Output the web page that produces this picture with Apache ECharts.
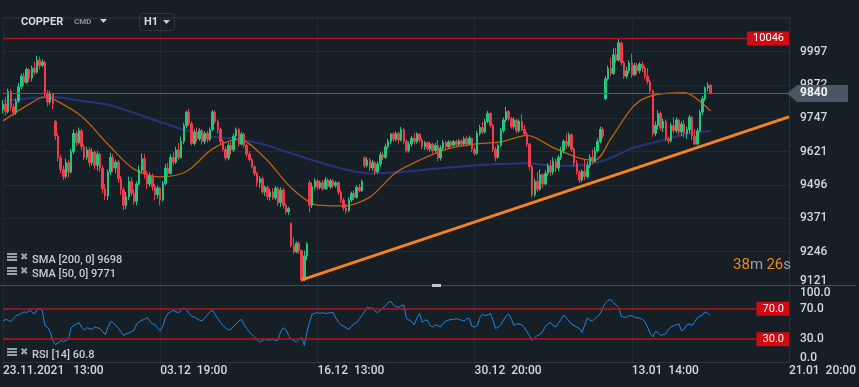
<!DOCTYPE html>
<html><head><meta charset="utf-8">
<script src="https://cdn.jsdelivr.net/npm/echarts@6/dist/echarts.min.js"></script>
<style>html,body{margin:0;padding:0;background:#171f26;}#c{width:859px;height:387px;}</style>
</head><body><div id="c"></div>
<script>
// ---- data ----
const symbolName = 'COPPER';
const symbolType = 'CMD';
const timeframe = 'H1';
const tickLabels = ['23.11.2021   13:00', '03.12  19:00', '16.12  13:00', '30.12  20:00', '13.01  14:00', '21.01  20:00'];
const tickEvery = 60;
const categoryCount = 301;
const priceMin = 9121, priceMax = 10127, priceStep = 125.1, priceLabelMax = 9997;
const highLevel = 10046;
const lastPrice = 9840;
const rsiLevels = [70, 30];
const smaLabels = ['SMA [200, 0] 9698', 'SMA [50, 0] 9771'];
const rsiLabel = 'RSI [14] 60.8';
const timerParts = ['38', 'm', '26', 's'];
// candles: [open, close, low, high]
const candles = [
[9780,9800,9765,9815],[9800,9772,9758,9826],[9772,9848,9765,9858],[9848,9790,9775,9855],[9790,9768,9755,9802],
[9768,9812,9760,9822],[9812,9865,9805,9880],[9865,9905,9855,9915],[9905,9882,9868,9918],[9882,9930,9875,9938],
[9930,9898,9882,9935],[9898,9935,9885,9945],[9935,9920,9908,9958],[9920,9965,9915,9982],[9965,9945,9930,9978],
[9945,9958,9938,9968],[9958,9842,9830,9962],[9842,9808,9792,9852],[9808,9838,9798,9850],[9838,9800,9782,9842],
[9735,9680,9665,9740],[9680,9598,9585,9690],[9598,9555,9540,9610],[9555,9528,9515,9570],[9528,9580,9520,9595],
[9580,9545,9525,9590],[9545,9622,9540,9632],[9622,9690,9612,9705],[9690,9655,9640,9700],[9655,9700,9648,9712],
[9700,9640,9625,9706],[9640,9600,9590,9650],[9600,9628,9590,9640],[9628,9580,9565,9640],[9580,9620,9570,9635],
[9620,9570,9555,9626],[9570,9612,9550,9625],[9612,9560,9545,9616],[9560,9482,9465,9570],[9482,9455,9440,9500],
[9455,9545,9440,9555],[9545,9600,9535,9618],[9600,9560,9545,9612],[9560,9582,9540,9592],[9582,9520,9505,9590],
[9520,9478,9460,9530],[9478,9420,9402,9488],[9420,9452,9406,9470],[9452,9510,9440,9528],[9510,9465,9455,9525],
[9465,9435,9422,9480],[9435,9500,9420,9510],[9500,9552,9495,9570],[9552,9595,9540,9615],[9595,9538,9520,9612],
[9538,9500,9482,9550],[9500,9530,9490,9545],[9530,9490,9475,9540],[9490,9460,9440,9500],[9460,9485,9445,9495],
[9485,9440,9420,9490],[9440,9502,9435,9512],[9502,9560,9495,9575],[9560,9540,9525,9580],[9540,9600,9535,9612],
[9600,9582,9570,9620],[9582,9628,9575,9640],[9628,9600,9590,9655],[9600,9660,9595,9678],[9660,9720,9650,9730],
[9720,9770,9710,9775],[9770,9728,9718,9783],[9728,9652,9645,9735],[9652,9695,9645,9705],[9695,9670,9660,9712],
[9670,9700,9662,9710],[9700,9660,9648,9706],[9660,9690,9650,9698],[9690,9668,9655,9700],[9668,9705,9660,9712],
[9705,9770,9698,9778],[9770,9735,9725,9776],[9735,9705,9690,9742],[9705,9660,9650,9712],[9660,9630,9622,9668],
[9630,9598,9588,9640],[9598,9645,9590,9655],[9645,9628,9610,9660],[9628,9680,9620,9690],[9680,9705,9665,9712],
[9705,9650,9640,9710],[9650,9688,9645,9695],[9688,9645,9636,9692],[9645,9612,9602,9650],[9612,9592,9585,9625],
[9592,9565,9558,9598],[9565,9540,9530,9570],[9540,9505,9490,9545],[9505,9520,9485,9530],[9520,9470,9462,9528],
[9470,9488,9455,9495],[9488,9452,9440,9494],[9452,9470,9438,9482],[9470,9448,9440,9485],[9448,9485,9440,9492],
[9485,9430,9418,9490],[9430,9478,9414,9488],[9478,9420,9408,9486],[9420,9395,9386,9428],[9395,9408,9384,9415],
[9352,9268,9262,9356],[9268,9245,9238,9298],[9245,9278,9240,9285],[9278,9250,9238,9285],[9250,9140,9132,9255],
[9140,9230,9135,9250],[9230,9275,9215,9282],[9505,9420,9395,9515],[9420,9490,9410,9505],[9490,9512,9480,9522],
[9512,9488,9478,9518],[9488,9505,9480,9512],[9505,9482,9475,9515],[9482,9515,9478,9527],[9515,9490,9480,9522],
[9490,9512,9482,9520],[9512,9495,9484,9518],[9495,9505,9486,9512],[9505,9470,9460,9510],[9470,9440,9429,9478],
[9440,9410,9400,9448],[9410,9400,9388,9425],[9400,9440,9395,9450],[9440,9465,9432,9472],[9465,9450,9440,9476],
[9450,9488,9445,9495],[9488,9475,9468,9500],[9475,9510,9470,9516],[9598,9570,9560,9604],[9570,9590,9562,9600],
[9590,9560,9548,9598],[9560,9580,9550,9590],[9580,9545,9534,9586],[9545,9575,9538,9585],[9575,9610,9565,9620],
[9610,9600,9590,9622],[9600,9640,9595,9652],[9640,9660,9632,9670],[9660,9688,9650,9692],[9688,9668,9658,9694],
[9668,9690,9660,9698],[9690,9665,9652,9696],[9665,9705,9660,9714],[9705,9660,9650,9710],[9660,9625,9617,9668],
[9625,9650,9618,9660],[9650,9672,9640,9680],[9672,9660,9648,9692],[9660,9688,9652,9694],[9688,9665,9655,9692],
[9665,9640,9630,9672],[9640,9655,9628,9662],[9655,9632,9625,9660],[9632,9650,9622,9658],[9650,9625,9615,9655],
[9625,9645,9618,9655],[9645,9598,9585,9665],[9598,9635,9588,9645],[9635,9655,9628,9665],[9655,9640,9632,9662],
[9640,9658,9635,9665],[9658,9645,9638,9664],[9645,9660,9640,9665],[9660,9648,9640,9666],[9648,9662,9642,9668],
[9662,9650,9643,9668],[9650,9670,9644,9678],[9670,9650,9640,9680],[9650,9672,9645,9682],[9672,9630,9620,9676],
[9630,9615,9608,9640],[9615,9690,9610,9700],[9690,9712,9682,9722],[9712,9695,9688,9735],[9695,9735,9690,9745],
[9735,9765,9728,9775],[9765,9720,9712,9770],[9720,9630,9620,9725],[9630,9600,9585,9640],[9600,9645,9595,9652],
[9645,9700,9640,9710],[9700,9740,9692,9750],[9740,9772,9732,9790],[9772,9745,9738,9778],[9745,9715,9708,9752],
[9715,9740,9708,9750],[9740,9700,9690,9745],[9700,9735,9692,9742],[9735,9705,9698,9762],[9705,9688,9680,9720],
[9688,9650,9640,9696],[9650,9565,9552,9655],[9565,9460,9450,9570],[9460,9510,9452,9520],[9510,9480,9470,9545],
[9480,9535,9475,9555],[9535,9500,9485,9540],[9500,9540,9495,9552],[9540,9568,9530,9578],[9568,9545,9530,9590],
[9545,9585,9535,9600],[9585,9560,9545,9595],[9560,9600,9550,9608],[9600,9625,9590,9640],[9625,9660,9615,9668],
[9660,9645,9632,9690],[9645,9685,9638,9694],[9685,9630,9620,9690],[9630,9580,9565,9636],[9580,9545,9535,9590],
[9545,9515,9504,9552],[9515,9548,9508,9555],[9548,9528,9515,9590],[9528,9570,9520,9585],[9570,9600,9560,9612],
[9600,9585,9575,9630],[9585,9625,9580,9640],[9625,9660,9618,9672],[9660,9705,9652,9716],[9705,9680,9672,9714],
[9820,9895,9815,9905],[9895,9935,9888,9945],[9935,9915,9905,9975],[9915,9985,9910,10010],[9985,9965,9955,10012],
[9965,10030,9960,10048],[10030,9955,9945,10035],[9955,9905,9895,9962],[9905,9925,9895,9940],[9925,9955,9915,9965],
[9955,9910,9900,9990],[9910,9945,9905,9955],[9945,9925,9910,9955],[9925,9950,9915,9958],[9950,9935,9920,9960],
[9935,9905,9895,9942],[9905,9885,9875,9935],[9885,9850,9842,9892],[9850,9690,9677,9855],[9690,9720,9680,9735],
[9720,9765,9705,9778],[9765,9710,9700,9772],[9710,9735,9695,9745],[9735,9670,9660,9742],[9670,9662,9652,9678],
[9662,9720,9655,9730],[9720,9700,9690,9752],[9700,9740,9692,9750],[9740,9695,9685,9745],[9695,9725,9680,9735],
[9725,9690,9675,9740],[9690,9705,9670,9715],[9705,9750,9690,9760],[9750,9680,9665,9755],[9680,9650,9645,9705],
[9650,9700,9645,9710],[9700,9770,9695,9778],[9770,9820,9760,9830],[9820,9862,9812,9866],[9862,9870,9848,9882],
[9870,9840,9836,9876]
];
const rsi = [
54,56,55,53,57,61,62,64,66,65, 68,66,63,69,70,68,48,46,40,28,
23,25,28,27,28,30,45,48,50,52, 46,42,45,44,43,46,45,44,40,36,
45,53,52,48,45,40,35,37,38,40, 42,50,53,55,56,58.7,54,50,49,45,
41,47,58,64,66,68,66,65,68,71, 69,64,60,59,57,55,54,58,62,66,
68,62,57,52,48,45,42,43,47,50, 54,56,49,44,40,36,33,29,26,28,
30,29,29,30,28,29,40,45,42,35, 30,28,26,30,32,22,39,52,63,64,
65,64,65,64,64,65,65,58,53,49, 47,45,43,47,50,52,56,61,66,72,
71,71,67,65,68,71,74,78,80,75, 73,72,74,75,57,55,53,49,58,64,
52,55,55,48,46,49,48,46,51,54, 55,56,56,57,56,55,54,57,57,47,
46,48,58,63,61,62,64,55,44,46, 49,55,60,63,57,48,50,50,49,45,
40,34,28,32,35,36,40,47,50,52, 48,46,51,56,62,58,54,50,48,46,
44,39,48,58,55,54,57,60,64,72, 78,81,82,78,75,72,60,59,59,61,
61,59,58,58,56,53,46,38,33,40, 39,35,36,37,43,46,48,49,50,41,
43,49,50,48,53,58,60,62,66,64, 60.8
];
const sma50Idx = [0,10,16,20,30,40,50,60,70,80,90,100,110,120,130,140,150,160,170,180,190,200,210,220,226,232,236,240,244,250,260,270];
const sma50Val = [9737,9800,9827,9815,9754,9650,9556,9527,9547,9632,9668,9598,9486,9421,9418,9451,9543,9594,9633,9650,9658,9683,9637,9597,9590,9670,9730,9785,9818,9837,9843,9774];
const sma200Idx = [0,10,20,30,40,50,60,70,80,90,100,110,120,130,140,150,160,170,180,190,200,210,220,230,240,250,260,270];
const sma200Val = [9812,9822,9826,9812,9798,9767,9733,9701,9678,9668,9647,9615,9584,9556,9540,9543,9553,9562,9570,9575,9578,9569,9570,9590,9634,9660,9686,9699];
const trendIdx = [114, 300];
const trendVal = [9140, 9752];

// ---- colours ----
const BG = '#171f26', GRID = '#222b33', TXT = '#d3d7db', UP = '#22c77e', DOWN = '#f23a4b';
const FONT = 'Roboto';

const cats = Array.from({length: categoryCount}, (_, i) => String(i));
const showTick = (i) => i % tickEvery === 0;
const pairs = (xs, ys) => xs.map((x, k) => [x, ys[k]]);

const chart = echarts.init(document.getElementById('c'), null, {renderer: 'canvas'});
const option = {
  backgroundColor: BG,
  animation: false,
  grid: [
    {left: 3, right: 70, top: 17, height: 268},
    {left: 3, right: 70, top: 286, height: 76}
  ],
  xAxis: [
    {type: 'category', gridIndex: 0, data: cats, boundaryGap: false,
     axisLine: {show: false}, axisTick: {show: false}, axisLabel: {show: false},
     splitLine: {show: true, interval: showTick, lineStyle: {color: GRID}}},
    {type: 'category', gridIndex: 1, data: cats, boundaryGap: false,
     axisLine: {show: true, lineStyle: {color: '#2c363f'}}, axisTick: {show: false},
     axisLabel: {interval: showTick, align: 'left', margin: 3, color: TXT, fontSize: 12, fontFamily: FONT, fontWeight: 500,
       formatter: (v, i) => showTick(i) ? tickLabels[i / tickEvery] : ''},
     splitLine: {show: true, interval: showTick, lineStyle: {color: GRID}}}
  ],
  yAxis: [
    {type: 'value', gridIndex: 0, position: 'right', min: priceMin, max: priceMax, interval: priceStep,
     axisLine: {show: true, lineStyle: {color: '#29333c'}}, axisTick: {show: false},
     splitLine: {lineStyle: {color: GRID}},
     axisLabel: {showMaxLabel: false, margin: 11, color: TXT, fontSize: 12, fontFamily: FONT, fontWeight: 500,
       formatter: v => {
         const r = Math.round(v);
         if (r > priceLabelMax) return '';
         return Math.abs(v - priceMin) < 0.01 ? '{lo|' + r + '}' : String(r);
       },
       rich: {lo: {padding: [0, 0, 8, 0], color: TXT, fontSize: 12, fontFamily: FONT, fontWeight: 500}}}},
    {type: 'value', gridIndex: 1, position: 'right', min: 0, max: 100, interval: 10,
     axisLine: {show: true, lineStyle: {color: '#29333c'}}, axisTick: {show: false},
     splitLine: {show: false},
     axisLabel: {margin: 11, color: TXT, fontSize: 12, fontFamily: FONT, fontWeight: 500,
       formatter: v => {
         const r = Math.round(v);
         if (r === 100) return '{hi|100.0}';
         if (r === 0) return '{lo|0.0}';
         if (r === 70 || r === 30) return r.toFixed(1);
         return '';
       },
       rich: {hi: {padding: [14, 0, 0, 0], color: TXT, fontSize: 12, fontFamily: FONT, fontWeight: 500},
              lo: {padding: [0, 0, 9, 0], color: TXT, fontSize: 12, fontFamily: FONT, fontWeight: 500}}}}
  ],
  series: [
    {type: 'line', xAxisIndex: 0, yAxisIndex: 0, data: pairs(sma200Idx, sma200Val), smooth: 0.3,
     symbol: 'none', lineStyle: {color: '#28337f', width: 2}, z: 2},
    {type: 'line', xAxisIndex: 0, yAxisIndex: 0, data: pairs(sma50Idx, sma50Val), smooth: 0.3,
     symbol: 'none', lineStyle: {color: '#c0600e', width: 1.3}, z: 3},
    {type: 'candlestick', xAxisIndex: 0, yAxisIndex: 0, data: candles, barWidth: 2, z: 4,
     itemStyle: {color: UP, color0: DOWN, borderColor: UP, borderColor0: DOWN, borderWidth: 1},
     markLine: {silent: true, symbol: ['none', 'none'], animation: false,
       data: [
         {yAxis: highLevel, lineStyle: {color: '#b3121a', width: 1.3, type: 'solid'},
          label: {show: true, position: 'insideEnd', distance: 0, formatter: String(highLevel),
                  backgroundColor: '#d10a12', color: '#fff', padding: [2, 5, 1, 6], fontSize: 11, fontFamily: FONT}},
         {yAxis: lastPrice, lineStyle: {color: '#56626c', width: 1, type: 'solid'}, label: {show: false}}
       ]}},
    {type: 'line', xAxisIndex: 0, yAxisIndex: 0, data: pairs(trendIdx, trendVal),
     symbol: 'none', lineStyle: {color: '#f5821f', width: 3}, z: 5},
    {type: 'line', xAxisIndex: 1, yAxisIndex: 1, data: rsi, symbol: 'none',
     lineStyle: {color: '#1f86e4', width: 1}, z: 3,
     markLine: {silent: true, symbol: ['none', 'none'], animation: false,
       lineStyle: {color: '#b8141b', width: 1.5, type: 'solid'},
       label: {show: true, position: 'insideEnd', distance: 0, formatter: p => p.value.toFixed(1),
               backgroundColor: '#d10a12', color: '#fff', padding: [2, 5, 1, 6], fontSize: 11, fontFamily: FONT},
       data: rsiLevels.map(v => ({yAxis: v}))}}
  ]
};
chart.setOption(option);

const yLast = chart.convertToPixel({yAxisIndex: 0}, lastPrice);
function legendIcon(x, y) {
  return [
    {type: 'rect', shape: {x: x, y: y, width: 10, height: 2}, style: {fill: '#9aa1a8'}},
    {type: 'rect', shape: {x: x, y: y + 3, width: 10, height: 2}, style: {fill: '#9aa1a8'}},
    {type: 'rect', shape: {x: x, y: y + 6, width: 10, height: 2}, style: {fill: '#9aa1a8'}},
    {type: 'text', x: x + 13, y: y + 4, style: {text: '\u2716', fill: '#9aa1a8', font: '10px DejaVu Sans', verticalAlign: 'middle'}}
  ];
}
const g = [
  {type: 'text', x: 21, y: 22, style: {text: symbolName, fill: '#d6dadf', font: 'bold 11px Roboto', verticalAlign: 'middle'}},
  {type: 'text', x: 74, y: 22, style: {text: symbolType, fill: '#8a9299', font: 'bold 8px Roboto', verticalAlign: 'middle'}},
  {type: 'polygon', shape: {points: [[100, 19], [107, 19], [103.5, 23]]}, style: {fill: '#c8cdd2'}},
  {type: 'rect', shape: {x: 139.5, y: 13.5, width: 35, height: 17, r: 3}, style: {fill: 'none', stroke: '#2d3740', lineWidth: 1}},
  {type: 'text', x: 144, y: 22, style: {text: timeframe, fill: '#d6dadf', font: 'bold 11px Roboto', verticalAlign: 'middle'}},
  {type: 'polygon', shape: {points: [[163, 20], [170, 20], [166.5, 24]]}, style: {fill: '#c8cdd2'}},
  {type: 'line', shape: {x1: 0, y1: 285.5, x2: 856, y2: 285.5}, style: {stroke: '#434e58', lineWidth: 1}},
  {type: 'rect', shape: {x: 432, y: 284, width: 9, height: 3}, style: {fill: '#c0c5ca'}},
  ...legendIcon(7, 253),
  {type: 'text', x: 32, y: 260.5, style: {text: smaLabels[0], fill: '#c8cdd2', font: '500 11px Roboto', verticalAlign: 'middle'}},
  ...legendIcon(7, 267),
  {type: 'text', x: 32, y: 274.5, style: {text: smaLabels[1], fill: '#c8cdd2', font: '500 11px Roboto', verticalAlign: 'middle'}},
  ...legendIcon(7, 348),
  {type: 'text', x: 32, y: 355, style: {text: rsiLabel, fill: '#c8cdd2', font: '500 11px Roboto', verticalAlign: 'middle'}},
  {type: 'text', x: 791, y: 265, style: {
    text: '{o|' + timerParts[0] + '}{g|' + timerParts[1] + '} {o|' + timerParts[2] + '}{g|' + timerParts[3] + '}',
    align: 'right', verticalAlign: 'middle',
    rich: {o: {fill: '#e8891c', fontSize: 15, fontFamily: FONT}, g: {fill: '#9aa1a7', fontSize: 15, fontFamily: FONT}}}},
  {type: 'polygon', shape: {points: [[787, yLast], [797, yLast - 8.5], [848, yLast - 8.5], [848, yLast + 8.5], [797, yLast + 8.5]]},
   style: {fill: '#4a5661'}},
  {type: 'text', x: 800, y: yLast, style: {text: String(lastPrice), fill: '#f2f4f6', font: 'bold 12px Roboto', verticalAlign: 'middle'}}
];
chart.setOption({graphic: g.map(e => Object.assign({z: 100, silent: true}, e))});
</script>
</body></html>
